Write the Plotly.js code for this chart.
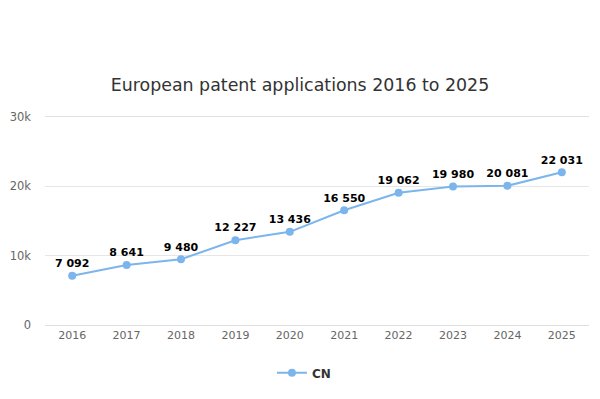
<!DOCTYPE html>
<html><head><meta charset="utf-8">
<script src="https://cdn.plot.ly/plotly-3.0.1.min.js"></script>
<style>body{margin:0;background:#fff}#c{width:600px;height:399px}</style>
</head><body><div id="c"></div>
<script>
const years = ['2016','2017','2018','2019','2020','2021','2022','2023','2024','2025'];
const cnValues = [7092, 8641, 9480, 12227, 13436, 16550, 19062, 19980, 20081, 22031];
const yTicks = [0, 10000, 20000, 30000];
const yTickLabels = ['0', '10k', '20k', '30k'];

const trace = {
  x: years, y: cnValues, name: 'CN', type: 'scatter', mode: 'lines+markers+text',
  line: {color: '#7cb5ec', width: 2},
  marker: {color: '#7cb5ec', size: 8},
  texttemplate: '%{y:,}', textposition: 'top center',
  textfont: {family: 'DejaVu Sans', size: 11, color: '#000', weight: 'bold'},
  cliponaxis: false, hoverinfo: 'x+y'
};
const layout = {
  width: 600, height: 399,
  separators: '. ',
  margin: {l: 45, r: 11, t: 117, b: 74},
  paper_bgcolor: '#fff', plot_bgcolor: '#fff',
  font: {family: 'DejaVu Sans', color: '#666', size: 11},
  title: {text: 'European patent applications 2016 to 2025', font: {family: 'DejaVu Sans', size: 17.4, color: '#333'}, x: 0.5, xanchor: 'center', xref: 'container', y: 1 - 85/399, yanchor: 'middle', yref: 'container'},
  xaxis: {type: 'category', range: [-0.5, 9.5], showgrid: false, zeroline: false, showline: true, mirror: true, linecolor: '#e0e0e0', linewidth: 1, ticks: '', tickfont: {size: 11, color: '#666'}, fixedrange: true},
  yaxis: {range: [0, 30000], tickvals: yTicks, ticktext: yTickLabels, showgrid: true, gridcolor: '#e6e6e6', gridwidth: 1, zeroline: false, showline: false, ticks: '', ticklabelstandoff: 13, tickfont: {size: 11.5, color: '#666'}, fixedrange: true},
  showlegend: true,
  legend: {orientation: 'h', x: 0.476, xanchor: 'center', y: -0.23, yanchor: 'middle', font: {family: 'DejaVu Sans', size: 12, color: '#333', weight: 'bold'}}
};
Plotly.newPlot('c', [trace], layout, {displayModeBar: false, staticPlot: true});
</script></body></html>
